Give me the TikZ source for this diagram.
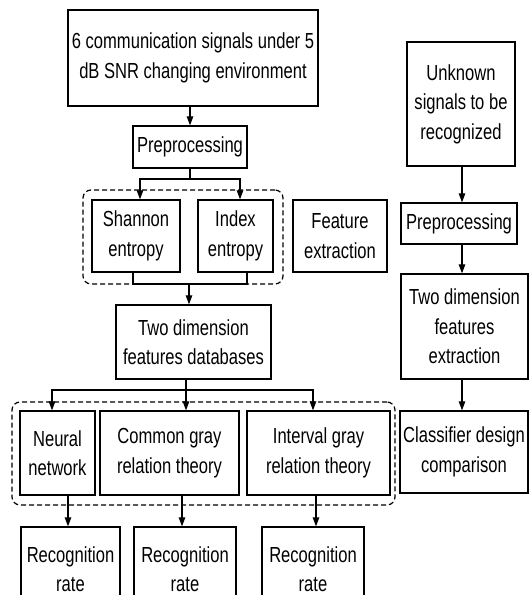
\documentclass[tikz,border=0pt]{standalone}
\usepackage{fontspec}
\setmainfont{Liberation Sans}[FakeStretch=0.76]
\usetikzlibrary{arrows.meta}
\begin{document}
\begin{tikzpicture}[x=1pt,y=-1pt,
  box/.style={draw,line width=1.3pt,rectangle,inner sep=0pt,align=center,
    font=\fontsize{21.8}{29.5}\selectfont},
  arr/.style={line width=1.1pt,-{Triangle[length=9pt,width=6.5pt]}},
  ln/.style={line width=1.1pt},
  grp/.style={draw,line width=1.2pt,dash pattern=on 5pt off 3pt,rounded corners=8pt}]
\useasboundingbox (0,0) rectangle (531,595);
\clip (0,0) rectangle (531,595);
% left column
\node[box,minimum width=250pt,minimum height=96pt] (top) at (193,58)
  {6 communication signals under 5\\dB SNR changing environment};
\node[box,minimum width=114pt,minimum height=42pt] (pre1) at (190,147) {Preprocessing};
\node[box,minimum width=88pt,minimum height=72pt] (shannon) at (136,236) {Shannon\\entropy};
\node[box,minimum width=75pt,minimum height=72pt] (index) at (235.5,236) {Index\\entropy};
\node[box,minimum width=94pt,minimum height=72pt] (feat) at (340,236) {Feature\\extraction};
\node[box,minimum width=155pt,minimum height=74pt] (db) at (193.5,342) {Two dimension\\features databases};
\node[box,minimum width=75pt,minimum height=84pt] (neural) at (57.5,453) {Neural\\network};
\node[box,minimum width=139pt,minimum height=84pt] (common) at (169.5,453) {Common gray\\relation theory};
\node[box,minimum width=143pt,minimum height=84pt] (interval) at (318.5,453) {Interval gray\\relation theory};
\node[box,minimum width=99pt,minimum height=84pt] (rec1) at (70.5,569) {Recognition\\rate};
\node[box,minimum width=102pt,minimum height=84pt] (rec2) at (185,569) {Recognition\\rate};
\node[box,minimum width=102pt,minimum height=84pt] (rec3) at (313,569) {Recognition\\rate};
% right column
\node[box,minimum width=108pt,minimum height=124pt] (unk) at (461,104) {Unknown\\signals to be\\recognized};
\node[box,minimum width=116pt,minimum height=41pt] (pre2) at (459,223.5) {Preprocessing};
\node[box,minimum width=127pt,minimum height=105pt] (twod) at (464.5,326.5) {Two dimension\\features\\extraction};
\node[box,minimum width=128pt,minimum height=82pt] (cls) at (464,452) {Classifier design\\comparison};
% dashed groups
\node[grp,inner sep=0pt,minimum width=200pt,minimum height=94pt] (g1) at (183,237) {};
\node[grp,inner sep=0pt,minimum width=383pt,minimum height=103pt] (g2) at (203.5,453.5) {};
% coordinates
\coordinate (c190) at (190,0);
\coordinate (b1) at (190,179);
\coordinate (c140) at (140,0);
\coordinate (c240) at (240,0);
\coordinate (c133) at (133,0);
\coordinate (c247) at (247,0);
\coordinate (j1) at (189,284);
\coordinate (b2) at (186,390);
\coordinate (c52) at (52,0);
\coordinate (c313) at (313,0);
\coordinate (c68) at (68,0);
\coordinate (c182) at (182,0);
\coordinate (c316) at (316,0);
\coordinate (rc) at (462,0);
% connectors
\draw[arr] (top.south -| c190) -- (pre1.north -| c190);
\draw[ln] (pre1.south -| c190) -- (b1);
\draw[arr] (b1) -| (shannon.north -| c140);
\draw[arr] (b1) -| (index.north -| c240);
\draw[ln] (shannon.south -| c133) |- (j1) -| (index.south -| c247);
\draw[arr] (j1) -- (db.north -| j1);
\draw[ln] (db.south -| b2) -- (b2);
\draw[arr] (b2) -| (neural.north -| c52);
\draw[arr] (b2) -- (common.north -| b2);
\draw[arr] (b2) -| (interval.north -| c313);
\draw[arr] (neural.south -| c68) -- (rec1.north -| c68);
\draw[arr] (common.south -| c182) -- (rec2.north -| c182);
\draw[arr] (interval.south -| c316) -- (rec3.north -| c316);
\draw[arr] (unk.south -| rc) -- (pre2.north -| rc);
\draw[arr] (pre2.south -| rc) -- (twod.north -| rc);
\draw[arr] (twod.south -| rc) -- (cls.north -| rc);
\end{tikzpicture}
\end{document}
